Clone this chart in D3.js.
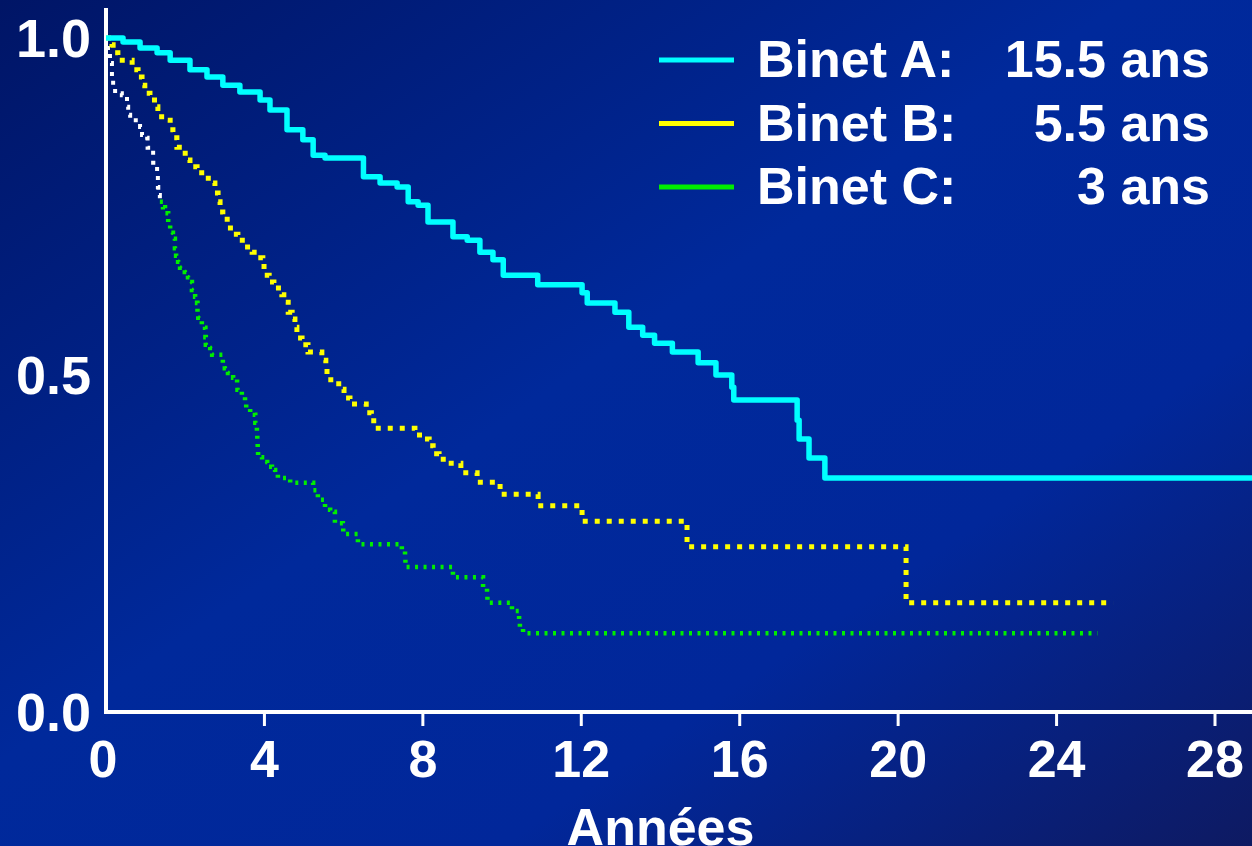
<!DOCTYPE html>
<html>
<head>
<meta charset="utf-8">
<script src="https://cdn.jsdelivr.net/npm/d3@7"></script>
<style>
  html, body { margin: 0; padding: 0; background: #00228a; }
  svg { display: block; }
</style>
</head>
<body>
<div id="chart"></div>
<script>
// Courbes de survie par stade de Binet (Kaplan-Meier)
const xTicks = [0, 4, 8, 12, 16, 20, 24, 28];
const yTicks = [0, 0.5, 1];
const xTitle = "Années";

// [années, survie]
const binetA = [
  [0, 1], [0.43, 0.994], [0.86, 0.985], [1.29, 0.978], [1.62, 0.967], [2.12, 0.953],
  [2.55, 0.942], [2.95, 0.930], [3.38, 0.920], [3.89, 0.908], [4.14, 0.893], [4.57, 0.864],
  [4.97, 0.849], [5.23, 0.826], [5.53, 0.822], [6.5, 0.794], [6.92, 0.785], [7.35, 0.779],
  [7.63, 0.757], [7.88, 0.752], [8.13, 0.727], [8.76, 0.705], [9.12, 0.700], [9.44, 0.682],
  [9.77, 0.671], [10.03, 0.648], [10.9, 0.634], [12.02, 0.622], [12.15, 0.607],
  [12.85, 0.593], [13.2, 0.571], [13.55, 0.559], [13.85, 0.547], [14.3, 0.534],
  [14.95, 0.518], [15.4, 0.500], [15.8, 0.482], [15.85, 0.463], [17.45, 0.433],
  [17.5, 0.405], [17.75, 0.377], [18.15, 0.347], [29.2, 0.347]
];
const binetB = [
  [0, 1], [0.15, 0.99], [0.18, 0.978], [0.3, 0.967], [0.66, 0.953], [0.81, 0.942],
  [0.91, 0.930], [0.98, 0.918], [1.11, 0.908], [1.29, 0.898], [1.31, 0.883], [1.54, 0.878],
  [1.62, 0.864], [1.69, 0.852], [1.79, 0.838], [2.0, 0.819], [2.12, 0.809], [2.3, 0.800],
  [2.5, 0.792], [2.68, 0.785], [2.75, 0.770], [2.83, 0.757], [2.88, 0.742], [2.95, 0.731],
  [3.06, 0.718], [3.21, 0.709], [3.33, 0.700], [3.51, 0.690], [3.69, 0.682], [3.81, 0.674],
  [3.96, 0.665], [3.99, 0.648], [4.12, 0.638], [4.24, 0.629], [4.44, 0.619], [4.49, 0.608],
  [4.6, 0.593], [4.7, 0.583], [4.77, 0.571], [4.82, 0.555], [4.95, 0.545], [5.1, 0.534],
  [5.45, 0.522], [5.55, 0.510], [5.58, 0.493], [5.76, 0.487], [5.96, 0.479], [6.01, 0.466],
  [6.16, 0.457], [6.57, 0.444], [6.7, 0.438], [6.76, 0.421], [7.8, 0.411], [8.0, 0.405],
  [8.16, 0.395], [8.26, 0.383], [8.41, 0.375], [8.64, 0.369], [8.96, 0.355], [9.37, 0.341],
  [9.95, 0.323], [10.91, 0.306], [12.02, 0.283], [14.67, 0.245], [20.2, 0.162], [25.43, 0.162]
];
const binetC = [
  [0, 1], [0.05, 0.978], [0.1, 0.963], [0.15, 0.941], [0.18, 0.927], [0.23, 0.918],
  [0.4, 0.915], [0.53, 0.898], [0.56, 0.886], [0.61, 0.878], [0.86, 0.868], [0.91, 0.856],
  [1.04, 0.852], [1.05, 0.837], [1.16, 0.834], [1.19, 0.815], [1.29, 0.800], [1.31, 0.779],
  [1.32, 0.767], [1.36, 0.757], [1.44, 0.749], [1.49, 0.740], [1.57, 0.727], [1.62, 0.711],
  [1.69, 0.702], [1.74, 0.688], [1.77, 0.677], [1.82, 0.668], [1.87, 0.659], [1.99, 0.653],
  [2.07, 0.645], [2.12, 0.638], [2.17, 0.626], [2.25, 0.616], [2.3, 0.607], [2.31, 0.593],
  [2.33, 0.585], [2.42, 0.574], [2.5, 0.570], [2.51, 0.556], [2.52, 0.545], [2.63, 0.540],
  [2.68, 0.530], [2.95, 0.518], [3.0, 0.510], [3.08, 0.503], [3.21, 0.496], [3.31, 0.488],
  [3.32, 0.478], [3.43, 0.470], [3.51, 0.461], [3.54, 0.451], [3.64, 0.445], [3.76, 0.441],
  [3.77, 0.429], [3.81, 0.415], [3.82, 0.404], [3.83, 0.392], [3.84, 0.378], [3.94, 0.371],
  [4.07, 0.364], [4.19, 0.359], [4.27, 0.352], [4.34, 0.347], [4.65, 0.340], [5.23, 0.329],
  [5.35, 0.315], [5.53, 0.300], [5.66, 0.297], [5.78, 0.280], [5.98, 0.277], [5.99, 0.264],
  [6.36, 0.249], [7.47, 0.240], [7.55, 0.231], [7.56, 0.215], [8.76, 0.200], [9.52, 0.184],
  [9.62, 0.175], [9.63, 0.162], [10.25, 0.150], [10.43, 0.137], [10.45, 0.125],
  [10.53, 0.117], [25.03, 0.117]
];
const cWhiteUntil = 1.4; // début de la courbe C tracé en blanc sur l'original

const legendNames = ["Binet A:", "Binet B:", "Binet C:"];
const legendMedians = ["15.5 ans", "5.5 ans", "3 ans"];
const legendColors = ["#00ffff", "#ffff00", "#00ee00"];

const W = 1252, H = 846;
const FONT = "'Liberation Sans', Arial, Helvetica, sans-serif";

const svg = d3.select("#chart").append("svg")
  .attr("width", W).attr("height", H);

// fond dégradé bleu
const grad = svg.append("defs").append("linearGradient")
  .attr("id", "bg").attr("x1", "0").attr("y1", "0").attr("x2", "1").attr("y2", "1");
grad.append("stop").attr("offset", "0%").attr("stop-color", "#001566");
grad.append("stop").attr("offset", "45%").attr("stop-color", "#00299b");
grad.append("stop").attr("offset", "70%").attr("stop-color", "#01279a");
grad.append("stop").attr("offset", "100%").attr("stop-color", "#0e1a62");
svg.append("rect").attr("width", W).attr("height", H).attr("fill", "url(#bg)");

const x = d3.scaleLinear().domain([0, 28]).range([106, 1215]);
const y = d3.scaleLinear().domain([0, 1]).range([712, 38]);

// axes
svg.append("line").attr("x1", x(0)).attr("x2", W).attr("y1", y(0)).attr("y2", y(0))
  .attr("stroke", "#fff").attr("stroke-width", 4);
svg.append("line").attr("x1", x(0)).attr("x2", x(0)).attr("y1", 8).attr("y2", y(0) + 2)
  .attr("stroke", "#fff").attr("stroke-width", 4);

xTicks.forEach(v => {
  if (v > 0) {
    svg.append("line").attr("x1", x(v)).attr("x2", x(v))
      .attr("y1", y(0)).attr("y2", y(0) + 14)
      .attr("stroke", "#fff").attr("stroke-width", 3);
  }
  svg.append("text").attr("x", x(v) - (v === 0 ? 3 : 0)).attr("y", y(0) + 65)
    .attr("text-anchor", "middle")
    .attr("style", `font:bold 52px ${FONT};fill:#fff`)
    .text(v);
});
yTicks.forEach(v => {
  svg.append("text").attr("x", 91).attr("y", y(v) + 19)
    .attr("text-anchor", "end")
    .attr("style", `font:bold 54px ${FONT};fill:#fff`)
    .text(d3.format(".1f")(v));
});
svg.append("text").attr("x", (x(0) + x(28)) / 2).attr("y", 845)
  .attr("text-anchor", "middle")
  .attr("style", `font:bold 52px ${FONT};fill:#fff`)
  .text(xTitle);

// courbes en escalier
const line = d3.line().x(d => x(d[0])).y(d => y(d[1])).curve(d3.curveStepAfter);
const plot = svg.append("g");

plot.append("path").attr("d", line(binetC.filter(d => d[0] >= cWhiteUntil - 0.05)))
  .attr("fill", "none").attr("stroke", legendColors[2]).attr("stroke-width", 4.5)
  .attr("stroke-dasharray", "3 5.5");
plot.append("path").attr("d", line(binetC.filter(d => d[0] <= cWhiteUntil)))
  .attr("fill", "none").attr("stroke", "#ffffff").attr("stroke-width", 4)
  .attr("stroke-dasharray", "4 6");
plot.append("path").attr("d", line(binetB))
  .attr("fill", "none").attr("stroke", legendColors[1]).attr("stroke-width", 5)
  .attr("stroke-dasharray", "5 7");
plot.append("path").attr("d", line(binetA))
  .attr("fill", "none").attr("stroke", legendColors[0]).attr("stroke-width", 5.5)
  .attr("stroke-linejoin", "round");

// légende
legendNames.forEach((name, i) => {
  const by = 77 + i * 63.5;
  svg.append("line").attr("x1", 659).attr("x2", 734).attr("y1", by - 17).attr("y2", by - 17)
    .attr("stroke", legendColors[i]).attr("stroke-width", 5);
  svg.append("text").attr("x", 757).attr("y", by)
    .attr("style", `font:bold 52px ${FONT};fill:#fff`).text(name);
  svg.append("text").attr("x", 1210).attr("y", by).attr("text-anchor", "end")
    .attr("style", `font:bold 52px ${FONT};fill:#fff`).text(legendMedians[i]);
});
</script>
</body>
</html>
